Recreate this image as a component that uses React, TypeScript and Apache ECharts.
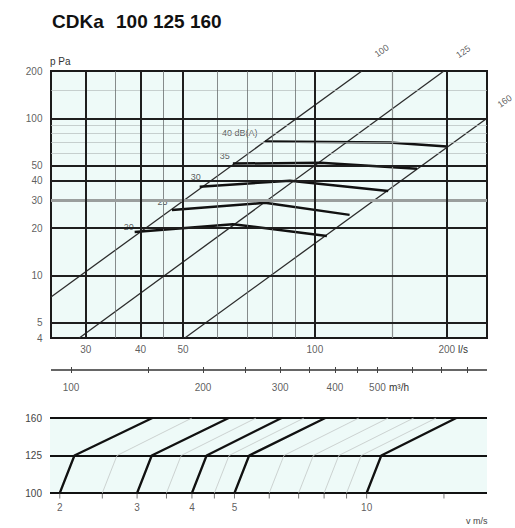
import React, { useEffect, useRef } from 'react';
import * as echarts from 'echarts';

const FONT = 'Liberation Sans, Arial, sans-serif';

// main chart: air flow (l/s) vs pressure (Pa), log-log
const flowRange = [25, 247];
const pressureRange = [4, 200];
const yTickLabels = [200, 100, 50, 40, 30, 20, 10, 5, 4];
const xTickLabels = [30, 40, 50, 100, 200];
const majorV = [30, 40, 50, 100, 200];
const minorV = [35, 45, 60, 70, 80, 90];
const midV = [150];
const majorH = [100, 50, 40, 20, 10, 5];
const grayH = [30];
const minorH = [150, 90, 80, 70, 60];

// duct lines (Δp ~ q²)
const ductNames = ['100', '125', '160'];
const duct100 = [[25, 7.3], [128, 200]];
const duct125 = [[29, 4], [197, 200]];
const duct160 = [[50.5, 4], [247, 100]];
const ductLabelPos = [[142, 269], [218, 265], [271, 128.5]];

// sound level curves
const dbNames = ['40 dB(A)', '35', '30', '25', '20'];
const db40 = [[77, 71.2], [148, 70.2], [200, 66.2]];
const db35 = [[65, 51.5], [103, 52.2], [171, 47.8]];
const db30 = [[54.6, 36.7], [87.7, 40.1], [147, 34.5]];
const db25 = [[47.2, 26.1], [76.9, 29.0], [120, 24.3]];
const db20 = [[38.8, 18.9], [65, 21.2], [106.5, 17.8]];
const dbLabelPos = [[67.4, 80.1], [62.3, 57.9], [53.5, 42.5], [44.9, 29.3], [37.6, 20.3]];

// m³/h scale
const m3hRange = [90, 889.2];
const m3hTicks = [100, 150, 200, 250, 300, 350, 400, 450, 500, 600, 700, 800];
const m3hLabels = [100, 200, 300, 400, 500];

// bottom: velocity nomogram, ducts 100 / 125 / 160
const ductCats = ['100', '125', '160'];
const velRange = [1.9, 18.8];
const velTicks = [2, 2.5, 3, 3.5, 4, 4.5, 5, 6, 7, 8, 9, 10, 15];
const velLabels = [2, 3, 4, 5, 10];
const velBold = [
  [2, 2.16, 3.25],
  [3, 3.24, 4.85],
  [4, 4.32, 6.4],
  [5, 5.4, 8.05],
  [10, 10.8, 16],
];
const velFaint = [
  [2.5, 2.7, 4.0],
  [3.5, 3.78, 5.6],
  [4.5, 4.86, 7.2],
  [6, 6.48, 9.6],
  [7, 7.56, 11.2],
  [8, 8.64, 12.8],
  [9, 9.72, 14.4],
];

const hiddenAxis = { show: false };

export default function App() {
  const ref = useRef<HTMLDivElement>(null);
  useEffect(() => {
    if (!ref.current) return;
    const chart = echarts.init(ref.current, undefined, { renderer: 'svg' });
    const lbl = (extra: any = {}) => ({
      show: true,
      fontSize: 10,
      color: '#333',
      fontFamily: FONT,
      ...extra,
    });
    const vLine = (v: number, color: string, width: number) => ({ xAxis: v, lineStyle: { color, width, type: 'solid' } });
    const hLine = (v: number, color: string, width: number) => ({ yAxis: v, lineStyle: { color, width, type: 'solid' } });

    const series: any[] = [];
    // main grid lines
    series.push({
      type: 'line', xAxisIndex: 0, yAxisIndex: 0, data: [], symbol: 'none', z: 1, silent: true,
      markLine: {
        silent: true, symbol: ['none', 'none'], label: { show: false }, animation: false,
        lineStyle: { type: 'solid' },
        data: [
          ...minorH.map(v => hLine(v, '#b5bcbb', 0.7)),
          ...minorV.map(v => vLine(v, '#6a6f6e', 0.8)),
          ...midV.map(v => vLine(v, '#8a8f8e', 1.2)),
          ...grayH.map(v => hLine(v, '#9a9e9d', 3)),
          ...majorH.map(v => hLine(v, '#1e1e1e', 2)),
          ...majorV.map(v => vLine(v, '#1e1e1e', 2)),
        ],
      },
    });
    // axis tick labels (main)
    series.push({
      type: 'scatter', xAxisIndex: 0, yAxisIndex: 0, clip: false, symbolSize: 1, silent: true,
      itemStyle: { color: 'rgba(0,0,0,0)' },
      data: yTickLabels.map(v => [flowRange[0], v]),
      label: lbl({ position: 'left', distance: 8, formatter: (p: any) => String(p.value[1]) }),
    });
    series.push({
      type: 'scatter', xAxisIndex: 0, yAxisIndex: 0, clip: false, symbolSize: 1, silent: true,
      itemStyle: { color: 'rgba(0,0,0,0)' },
      data: xTickLabels.map(v => [v, pressureRange[0]]),
      label: lbl({ position: 'bottom', distance: 6, formatter: (p: any) => String(p.value[0]) }),
    });
    // duct lines
    [duct100, duct125, duct160].forEach(d => {
      series.push({
        type: 'line', xAxisIndex: 0, yAxisIndex: 0, data: d, symbol: 'none', z: 2, silent: true,
        lineStyle: { color: '#2c2c2c', width: 1.3 },
      });
    });
    series.push({
      type: 'scatter', xAxisIndex: 0, yAxisIndex: 0, clip: false, symbolSize: 1, silent: true,
      itemStyle: { color: 'rgba(0,0,0,0)' },
      data: ductLabelPos.map((p, i) => ({ value: p, name: ductNames[i] })),
      label: lbl({ position: 'inside', rotate: 35, fontSize: 9, color: '#333', formatter: (p: any) => p.name }),
    });
    // dB curves
    [db40, db35, db30, db25, db20].forEach(d => {
      series.push({
        type: 'line', xAxisIndex: 0, yAxisIndex: 0, data: d, symbol: 'none', z: 3, silent: true,
        lineStyle: { color: '#111', width: 2.5 },
      });
    });
    series.push({
      type: 'scatter', xAxisIndex: 0, yAxisIndex: 0, clip: false, symbolSize: 1, silent: true, z: 4,
      itemStyle: { color: 'rgba(0,0,0,0)' },
      data: dbLabelPos.map((p, i) => ({ value: p, name: dbNames[i] })),
      label: lbl({ position: 'inside', fontSize: 9, color: '#333', formatter: (p: any) => p.name }),
    });
    // m³/h scale
    series.push({
      type: 'line', xAxisIndex: 1, yAxisIndex: 1, data: [[m3hRange[0], 1], [m3hRange[1], 1]], symbol: 'none', silent: true,
      lineStyle: { color: '#333', width: 1.5 },
      markLine: {
        silent: true, symbol: ['none', 'none'], label: { show: false }, animation: false,
        lineStyle: { type: 'solid', color: '#444', width: 1 },
        data: m3hTicks.map(v => ({ xAxis: v })),
      },
    });
    series.push({
      type: 'scatter', xAxisIndex: 1, yAxisIndex: 1, clip: false, symbolSize: 1, silent: true,
      itemStyle: { color: 'rgba(0,0,0,0)' },
      data: m3hLabels.map(v => [v, 0]),
      label: lbl({ position: 'bottom', distance: 9, formatter: (p: any) => String(p.value[0]) }),
    });
    // bottom nomogram
    velFaint.forEach(v => {
      series.push({
        type: 'line', xAxisIndex: 2, yAxisIndex: 2, data: v.map((x, i) => [x, i]), symbol: 'none', silent: true, z: 2,
        lineStyle: { color: '#c3c8c7', width: 0.8 },
      });
    });
    velBold.forEach(v => {
      series.push({
        type: 'line', xAxisIndex: 2, yAxisIndex: 2, data: v.map((x, i) => [x, i]), symbol: 'none', silent: true, z: 3,
        lineStyle: { color: '#111', width: 2.3 },
      });
    });
    series.push({
      type: 'scatter', xAxisIndex: 2, yAxisIndex: 2, clip: false, silent: true, symbol: 'rect', symbolSize: [1, 5],
      symbolOffset: [0, 3], itemStyle: { color: '#555' },
      data: velTicks.map(v => [v, 0]),
    });
    series.push({
      type: 'scatter', xAxisIndex: 2, yAxisIndex: 2, clip: false, symbolSize: 1, silent: true,
      itemStyle: { color: 'rgba(0,0,0,0)' },
      data: velLabels.map(v => [v, 0]),
      label: lbl({ position: 'bottom', distance: 9, formatter: (p: any) => String(p.value[0]) }),
    });

    chart.setOption({
      animation: false,
      graphic: [
        { type: 'text', left: 52, top: 12, style: { text: 'CDKa', font: `bold 19px ${FONT}`, fill: '#111' } },
        { type: 'text', left: 116, top: 12, style: { text: '100 125 160', font: `bold 19px ${FONT}`, fill: '#111' } },
        { type: 'text', left: 50, top: 56, style: { text: 'p Pa', font: `10px ${FONT}`, fill: '#333' } },
        { type: 'text', left: 458, top: 344, style: { text: 'l/s', font: `10px ${FONT}`, fill: '#333' } },
        { type: 'text', left: 389, top: 382, style: { text: 'm³/h', font: `10px ${FONT}`, fill: '#333' } },
        { type: 'text', left: 466, top: 516, style: { text: 'v m/s', font: `9px ${FONT}`, fill: '#444' } },
      ],
      grid: [
        { left: 51, top: 71, width: 436, height: 267, show: true, backgroundColor: '#eefaf8', borderColor: '#1a1a1a', borderWidth: 2 },
        { left: 51, top: 367, width: 436, height: 6, show: false },
        { left: 50, top: 418, width: 437, height: 75, show: true, backgroundColor: '#eefaf8', borderWidth: 0 },
      ],
      xAxis: [
        { type: 'log', gridIndex: 0, min: flowRange[0], max: flowRange[1], ...hiddenAxis },
        { type: 'log', gridIndex: 1, min: m3hRange[0], max: m3hRange[1], ...hiddenAxis },
        { type: 'log', gridIndex: 2, min: velRange[0], max: velRange[1], ...hiddenAxis },
      ],
      yAxis: [
        { type: 'log', gridIndex: 0, min: pressureRange[0], max: pressureRange[1], ...hiddenAxis },
        { type: 'value', gridIndex: 1, min: 0, max: 2, ...hiddenAxis },
        {
          type: 'category', gridIndex: 2, data: ductCats, boundaryGap: false,
          axisLine: { show: false }, axisTick: { show: false },
          axisLabel: { margin: 8, fontSize: 10, color: '#444', fontFamily: FONT, interval: 0 },
          splitLine: { show: true, interval: 0, lineStyle: { color: '#111', width: 2 } },
        },
      ],
      series,
    });
    return () => chart.dispose();
  }, []);
  return <div ref={ref} style={{ position: 'fixed', left: 0, top: 0, width: 515, height: 528, background: '#fff' }} />;
}
